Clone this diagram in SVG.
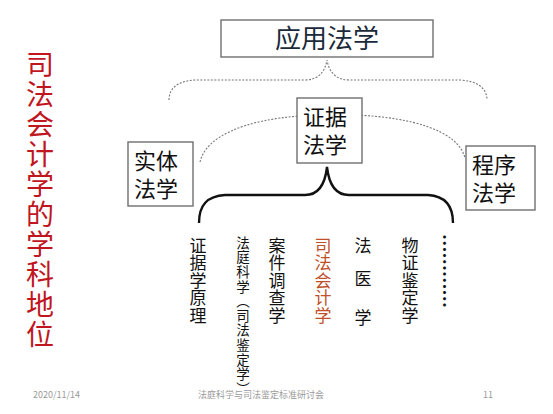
<svg xmlns="http://www.w3.org/2000/svg" width="553" height="414" viewBox="0 0 553 414">
<style>
.box{fill:#fff;stroke:#6f6f6f;stroke-width:1.4}
.t{font-family:"Liberation Sans","Noto Sans CJK SC",sans-serif;fill:#111}
.v{font-family:"Noto Sans CJK SC","Liberation Sans",sans-serif;writing-mode:vertical-rl;fill:#111}
.dot{fill:none;stroke:#777;stroke-width:1.1;stroke-dasharray:2 1.5}
.foot{font-family:"Noto Sans CJK SC","Liberation Sans",sans-serif;font-size:9px;fill:#9a9a9a}
</style>
<rect width="553" height="414" fill="#fff"/>
<g id="connectors">
<path class="dot" d="M169,100 C169,88 178,81 195,80 L305,80 C318,80 325,72 327,60 C329,72 336,80 349,80 L460,80 C477,81 487,88 487,100"/>
<path class="dot" d="M200,162 C206,136 245,120 300,116 C315,115 325,108 327,98 C329,108 339,115 354,115 C410,117 458,130 465,158"/>
<path d="M199,223 C199,205 207,196 225,195 L305,195 C318,195 325,185 327,167 C329,185 336,195 349,195 L428,195 C445,196 453,205 453,223" fill="none" stroke="#111" stroke-width="2.4"/>
</g>
<g id="title">
<text class="v" x="40" y="50" font-size="28" letter-spacing="2" style="fill:#c0161f">司法会计学的学科地位</text>
</g>
<g id="node-applied">
<rect class="box" x="221" y="20" width="212" height="37"/>
<text class="t" x="327" y="48" font-size="26" text-anchor="middle" style="fill:#1a2a3a">应用法学</text>
</g>
<g id="node-evidence">
<rect class="box" x="297" y="98" width="65" height="65"/>
<text class="t" x="303" y="125" font-size="22">证据</text>
<text class="t" x="303" y="153" font-size="22">法学</text>
</g>
<g id="node-substantive">
<rect class="box" x="128" y="142" width="65" height="64"/>
<text class="t" x="134" y="169" font-size="22">实体</text>
<text class="t" x="134" y="197" font-size="22">法学</text>
</g>
<g id="node-procedural">
<rect class="box" x="466" y="146" width="69" height="64"/>
<text class="t" x="472" y="173" font-size="22">程序</text>
<text class="t" x="472" y="201" font-size="22">法学</text>
</g>
<g id="col1"><text class="v" x="198" y="237" font-size="17" letter-spacing="0.5">证据学原理</text></g>
<g id="col2"><text class="v" x="243" y="236" font-size="13.5" letter-spacing="1.1">法庭科学（司法鉴定学）</text></g>
<g id="col3"><text class="v" x="277" y="237" font-size="17" letter-spacing="0.5">案件调查学</text></g>
<g id="col4"><text class="v" x="323" y="237" font-size="17" letter-spacing="0.5" style="fill:#c0502a">司法会计学</text></g>
<g id="col5">
<text class="v" x="363" y="237" font-size="17">法</text>
<text class="v" x="363" y="270" font-size="17">医</text>
<text class="v" x="363" y="309" font-size="17">学</text>
</g>
<g id="col6"><text class="v" x="410" y="237" font-size="17" letter-spacing="0.5">物证鉴定学</text></g>
<g id="col7"><text class="v" x="446" y="234" font-size="18.5" font-weight="bold" letter-spacing="0">…………</text></g>
<g id="footer">
<text class="foot" x="33" y="398">2020/11/14</text>
<text class="foot" x="261" y="398" text-anchor="middle">法庭科学与司法鉴定标准研讨会</text>
<text class="foot" x="488" y="398" text-anchor="middle">11</text>
</g>
</svg>
